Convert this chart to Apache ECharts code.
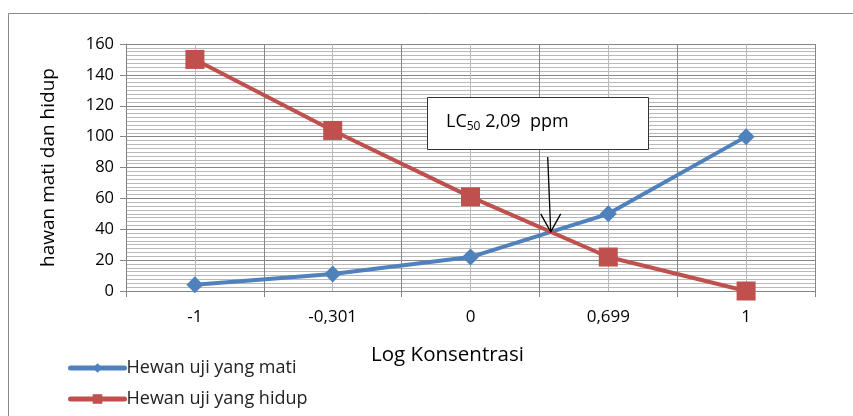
<!DOCTYPE html>
<html>
<head>
<meta charset="utf-8">
<script src="https://cdn.jsdelivr.net/npm/echarts@6/dist/echarts.min.js"></script>
<style>
  html, body { margin: 0; padding: 0; background: #fff; }
  #chart { width: 853px; height: 416px; }
</style>
</head>
<body>
<div id="chart"></div>
<script>
// data
var categories = ['-1', '-0,301', '0', '0,699', '1']
var hewanMati = [4, 11, 22, 50, 100]
var hewanHidup = [150, 104, 61, 22, 0]
var yTicks = [0, 20, 40, 60, 80, 100, 120, 140, 160]

var blue = '#4F81BD'
var red = '#C0504D'
var fontName = 'Open Sans'

var myChart = echarts.init(document.getElementById('chart'))

var option = {
  animation: false,
  textStyle: { fontFamily: fontName },
  grid: {
    left: 126,
    right: 38,
    top: 44,
    bottom: 125
  },
  legend: {
    orient: 'vertical',
    left: 63,
    top: 354,
    itemWidth: 54,
    itemHeight: 12,
    itemGap: 13,
    lineStyle: { width: 5, cap: 'round' },
    textStyle: { fontFamily: fontName, fontSize: 18, color: '#222', padding: [0, 0, 0, -3] },
    data: ['Hewan uji yang mati', 'Hewan uji yang hidup']
  },
  xAxis: [
    {
      type: 'category',
      data: categories,
      boundaryGap: true,
      name: 'Log Konsentrasi',
      nameLocation: 'middle',
      nameGap: 54,
      nameTextStyle: { fontSize: 20.5, color: '#000', fontFamily: fontName, padding: [0, 46, 0, 0] },
      axisLine: { lineStyle: { color: '#868686', width: 1 } },
      axisTick: { show: true, length: 6, lineStyle: { color: '#868686' } },
      axisLabel: { fontSize: 17, color: '#000', margin: 18, fontFamily: fontName },
      splitLine: { show: false }
    },
    {
      // only for the vertical gridlines
      type: 'value',
      min: 0,
      max: 5,
      interval: 1,
      position: 'bottom',
      axisLine: { show: false },
      axisTick: { show: false },
      axisLabel: { show: false },
      splitLine: { show: true, lineStyle: { color: '#868686', width: 1 } },
      minorTick: { show: false, splitNumber: 2 },
      minorSplitLine: { show: true, lineStyle: { color: '#b9b9b9', width: 1 } }
    }
  ],
  yAxis: {
    type: 'value',
    min: 0,
    max: 160,
    interval: 20,
    name: 'hawan mati dan hidup',
    nameLocation: 'middle',
    nameGap: 68,
    nameRotate: 90,
    nameTextStyle: { fontSize: 19, color: '#000', fontFamily: fontName },
    axisLine: { show: true, lineStyle: { color: '#868686', width: 1 } },
    axisTick: { show: true, length: 6, lineStyle: { color: '#868686' } },
    axisLabel: {
      fontSize: 16.5,
      color: '#000',
      margin: 12,
      fontFamily: fontName,
      formatter: function (v) {
        return yTicks.indexOf(v) >= 0 ? String(v) : ''
      }
    },
    splitLine: { show: true, lineStyle: { color: '#868686', width: 1 } },
    minorTick: { show: false, splitNumber: 8 },
    minorSplitLine: { show: true, lineStyle: { color: '#b9b9b9', width: 1 } }
  },
  series: [
    {
      name: 'Hewan uji yang mati',
      type: 'line',
      xAxisIndex: 0,
      data: hewanMati,
      symbol: 'diamond',
      symbolSize: 17,
      lineStyle: { color: blue, width: 4 },
      itemStyle: { color: blue }
    },
    {
      name: 'Hewan uji yang hidup',
      type: 'line',
      xAxisIndex: 0,
      data: hewanHidup,
      symbol: 'rect',
      symbolSize: 19,
      lineStyle: { color: red, width: 4 },
      itemStyle: { color: red }
    }
  ]
}

myChart.setOption(option)

// where the two lines cross, between index 2 and 3
var f = { xAxisIndex: 0, yAxisIndex: 0 }
var a1 = myChart.convertToPixel(f, [2, hewanMati[2]])
var a2 = myChart.convertToPixel(f, [3, hewanMati[3]])
var t = (hewanHidup[2] - hewanMati[2]) /
  ((hewanMati[3] - hewanMati[2]) - (hewanHidup[3] - hewanHidup[2]))
var tipX = a1[0] + (a2[0] - a1[0]) * t
var tipY = a1[1] + (a2[1] - a1[1]) * t

myChart.setOption({
  graphic: [
    {
      type: 'rect',
      silent: true,
      shape: { x: 8.5, y: 13.5, width: 900, height: 500 },
      style: { fill: 'none', stroke: '#8a8a8a', lineWidth: 1 },
      z: 0
    },
    {
      type: 'rect',
      shape: { x: 427.5, y: 97.5, width: 221, height: 52 },
      style: { fill: '#fff', stroke: '#333', lineWidth: 1 },
      z: 100
    },
    {
      type: 'text',
      x: 446,
      y: 122,
      style: {
        text: '{a|LC}{s|50}{a| 2,09  ppm}',
        verticalAlign: 'middle',
        rich: {
          a: { fontSize: 18, fontFamily: fontName, fill: '#000' },
          s: { fontSize: 12, fontFamily: fontName, fill: '#000', padding: [9, 0, 0, 0] }
        }
      },
      z: 101
    },
    {
      type: 'line',
      shape: { x1: tipX - 3, y1: 157, x2: tipX, y2: tipY },
      style: { stroke: '#000', lineWidth: 1.3 },
      z: 100
    },
    {
      type: 'polyline',
      shape: { points: [[tipX - 10, tipY - 18], [tipX, tipY], [tipX + 10, tipY - 18]] },
      style: { stroke: '#000', lineWidth: 1.3, fill: 'none' },
      z: 100
    }
  ]
})
</script>
</body>
</html>
